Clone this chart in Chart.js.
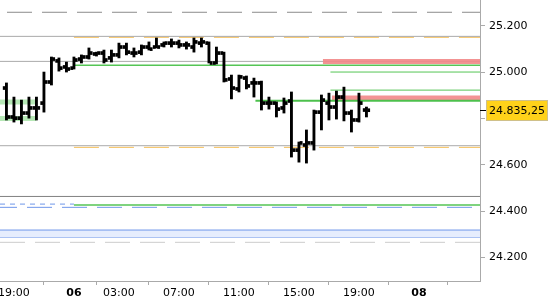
<!DOCTYPE html>
<html>
<head>
<meta charset="utf-8">
<script src="https://cdn.jsdelivr.net/npm/chart.js@4.4.1/dist/chart.umd.min.js"></script>
<style>
  html, body { margin: 0; padding: 0; background: #fff; }
  #wrap { width: 550px; height: 300px; }
</style>
</head>
<body>
<div id="wrap"><canvas id="chart" width="550" height="300"></canvas></div>
<script>
// x = trading hours counted from 19:00 on the 5th (the evening break is left out)
const barTimes = [-0.5, 0, 0.5, 1, 1.5, 2, 2.5, 3, 3.5, 4, 4.5, 5, 5.5, 6, 6.5, 7, 7.5, 8, 8.5, 9,
  9.5, 10, 10.5, 11, 11.5, 12, 12.5, 13, 13.5, 14, 14.5, 15, 15.5, 16, 16.5, 17, 17.5, 18, 18.5, 19,
  19.5, 20, 20.5, 21, 21.5, 22, 22.5, 23, 23.5]
const opens = [24931, 24806, 24801, 24823, 24845, 24866, 24957, 25048, 25022, 25017, 25056, 25065, 25078, 25082, 25061, 25074,
  25108, 25082, 25086, 25108, 25108, 25117, 25125, 25125, 25117, 25108, 25125, 25125, 25039, 25082, 24970, 24927,
  24974, 24953, 24953, 24866, 24866, 24845, 24875, 24663, 24685, 24694, 24827, 24866, 24849, 24892, 24823, 24793, 24836]
const highs = [24953, 24892, 24879, 24892, 24892, 25000, 25065, 25061, 25043, 25065, 25074, 25104, 25086, 25095, 25095, 25125,
  25125, 25104, 25117, 25130, 25147, 25130, 25143, 25138, 25130, 25147, 25147, 25130, 25108, 25086, 24987, 24987,
  24983, 24974, 24961, 24892, 24871, 24888, 24914, 24698, 24750, 24836, 24901, 24909, 24918, 24935, 24836, 24909, 24849]
const lows = [24793, 24784, 24776, 24801, 24793, 24827, 24944, 25004, 25000, 25013, 25039, 25056, 25069, 25039, 25043, 25061,
  25074, 25065, 25074, 25095, 25104, 25108, 25108, 25104, 25099, 25086, 25108, 25039, 25035, 24957, 24884, 24914,
  24927, 24892, 24836, 24840, 24806, 24823, 24633, 24611, 24607, 24663, 24750, 24793, 24797, 24789, 24741, 24784, 24806]
const closes = [24806, 24801, 24823, 24845, 24845, 24957, 25056, 25017, 25013, 25052, 25065, 25082, 25082, 25052, 25074, 25108,
  25086, 25082, 25108, 25099, 25108, 25125, 25125, 25117, 25117, 25130, 25130, 25039, 25082, 24966, 24931, 24979,
  24940, 24953, 24866, 24866, 24840, 24866, 24663, 24694, 24694, 24827, 24879, 24849, 24892, 24823, 24793, 24866, 24835.25]
const lastPrice = 24835.25

const tickTimes = [0, 4, 7, 11, 15, 19, 23, 27, 30.8]
const tickLabels = ['19:00', '06', '03:00', '07:00', '11:00', '15:00', '19:00', '08', '']
const boldLabels = ['06', '08']
const yTicks = [24200, 24400, 24600, 24800, 25000, 25200]
const yLabels = ['24.200', '24.400', '24.600', '24.800', '25.000', '25.200']

// horizontal levels
const grayDashLevels = [25258]
const graySolidLevels = [25154, 25046, 24682]
const darkGrayLevels = [24463]
const orangeLevels = [25150, 24675]
const orangeFrom = 4
const greenLevels = [25029, 24426]
const greenFrom = 4
const greenShortLevels = [25000, 24922]
const greenShortFrom = 21.1
const greenThickLevel = 24876
const greenThickFrom = 16.1
const redBandLevels = [25046, 24888]
const redBandFrom = [20.6, 21.2]
const leftGreenBands = [24871, 24800]
const leftGreenTo = 1.5
const blueShortDash = 24430
const blueShortTo = 4
const blueLongDash = 24416
const blueBand = [24318, 24287]
const lightGrayDash = 24265

const XMIN = -0.93
const XMAX = 31.07
const YMIN = 24098
const YMAX = 25311
const tickHalf = 6.5
const FONT = 'DejaVu Sans'

function hline (y, opts = {}) {
  return {
    type: 'line',
    data: [{ x: opts.from ?? XMIN, y }, { x: opts.to ?? XMAX, y }],
    borderColor: opts.color,
    borderWidth: opts.width ?? 1,
    borderDash: opts.dash || [],
    borderDashOffset: opts.dashOffset || 0,
    pointRadius: 0,
    fill: opts.fill ?? false,
    backgroundColor: opts.bg || 'transparent',
    order: opts.order ?? 5
  }
}

const lineSets = [
  ...grayDashLevels.map(y => hline(y, { color: '#8c8c8c', dash: [25, 10], dashOffset: 28 })),
  ...graySolidLevels.map(y => hline(y, { color: '#aaaaaa' })),
  ...darkGrayLevels.map(y => hline(y, { color: '#808080' })),
  ...orangeLevels.map(y => hline(y, { color: '#f5bd55', dash: [25, 10], from: orangeFrom })),
  ...greenLevels.map(y => hline(y, { color: '#55c555', width: 1.5, from: greenFrom, order: 3 })),
  ...greenShortLevels.map(y => hline(y, { color: '#55c555', from: greenShortFrom, order: 3 })),
  hline(greenThickLevel, { color: '#4cc04c', width: 2, from: greenThickFrom, order: 3 }),
  ...redBandLevels.map((y, i) => hline(y, { color: 'rgba(242,135,135,0.9)', width: 5, from: redBandFrom[i], order: 4 })),
  ...leftGreenBands.map(y => hline(y, { color: '#b6e8b6', width: 5, to: leftGreenTo, order: 4 })),
  hline(blueShortDash, { color: '#6f97ea', dash: [5, 5], to: blueShortTo }),
  hline(blueLongDash, { color: '#6f97ea', dash: [25, 10], dashOffset: 8 }),
  hline(blueBand[0], { color: '#6f97ea', fill: '+1', bg: '#e6edfd' }),
  hline(blueBand[1], { color: '#6f97ea' }),
  hline(lightGrayDash, { color: '#cccccc', dash: [25, 10] })
]

const barBase = {
  type: 'bar',
  backgroundColor: '#000',
  borderWidth: 0,
  barThickness: 2.2,
  order: 0
}

const priceMarker = {
  id: 'priceMarker',
  afterDraw (chart) {
    const { ctx, scales: { y } } = chart
    const py = Math.round(y.getPixelForValue(lastPrice))
    ctx.save()
    ctx.fillStyle = '#000'
    ctx.fillRect(480, py, 6, 1)
    ctx.fillStyle = '#ffd21a'
    ctx.fillRect(486, py - 10, 62, 21)
    ctx.strokeStyle = '#cfc08a'
    ctx.lineWidth = 1
    ctx.strokeRect(486.5, py - 9.5, 61, 20)
    ctx.fillStyle = '#000'
    ctx.font = '11px "' + FONT + '"'
    ctx.textBaseline = 'middle'
    ctx.fillText(lastPrice.toFixed(2).replace('.', ',').replace(/\B(?=(\d{3})+(?!\d))/, '.'), 489, py + 1)
    ctx.restore()
  }
}

new Chart(document.getElementById('chart'), {
  type: 'bar',
  data: {
    datasets: [
      { ...barBase, data: barTimes.map((t, i) => ({ x: t, y: [opens[i] - tickHalf, opens[i] + tickHalf] })) },
      { ...barBase, data: barTimes.map((t, i) => ({ x: t, y: [lows[i], highs[i]] })) },
      { ...barBase, data: barTimes.map((t, i) => ({ x: t, y: [closes[i] - tickHalf, closes[i] + tickHalf] })) },
      ...lineSets
    ]
  },
  options: {
    responsive: false,
    animation: false,
    layout: { padding: 0 },
    scales: {
      x: {
        type: 'linear',
        min: XMIN,
        max: XMAX,
        offset: false,
        afterBuildTicks: scale => { scale.ticks = tickTimes.map(v => ({ value: v })) },
        afterFit: scale => { scale.height = 19; scale.paddingLeft = 0; scale.paddingRight = 0 },
        grid: { drawOnChartArea: false, color: '#aaaaaa', tickLength: 4 },
        border: { color: '#aaaaaa' },
        ticks: {
          autoSkip: false,
          maxRotation: 0,
          padding: 2,
          color: '#000',
          font: ctx => ({
            family: FONT,
            size: 11,
            weight: ctx.tick && boldLabels.includes(tickLabels[ctx.index]) ? 'bold' : 'normal'
          }),
          callback: (v, i) => tickLabels[i]
        }
      },
      y: {
        position: 'right',
        min: YMIN,
        max: YMAX,
        afterBuildTicks: scale => { scale.ticks = yTicks.map(v => ({ value: v })) },
        afterFit: scale => { scale.width = 70; scale.paddingTop = 0; scale.paddingBottom = 0 },
        grid: { drawOnChartArea: false, color: '#aaaaaa', tickLength: 5 },
        border: { color: '#aaaaaa' },
        ticks: {
          autoSkip: false,
          padding: 4,
          color: '#000',
          font: { family: FONT, size: 11 },
          callback: (v, i) => yLabels[i]
        }
      }
    },
    plugins: {
      legend: { display: false },
      tooltip: { enabled: false }
    }
  },
  plugins: [priceMarker]
})
</script>
</body>
</html>
